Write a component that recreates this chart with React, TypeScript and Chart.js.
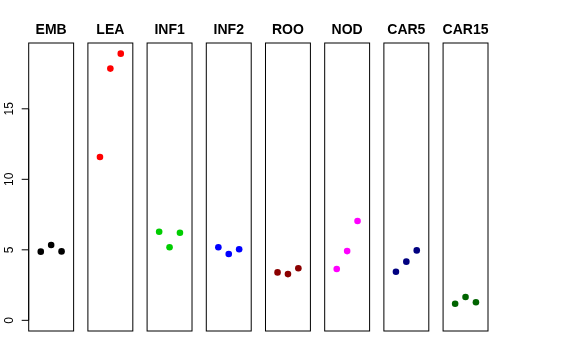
import React, { useEffect, useRef } from "react";
import { Chart, registerables } from "chart.js";

Chart.register(...registerables);

const categories = ["EMB", "LEA", "INF1", "INF2", "ROO", "NOD", "CAR5", "CAR15"];
const colors = ["#000000", "#FF0000", "#00CD00", "#0000FF", "#8B0000", "#FF00FF", "#000080", "#006400"];
const emb = [4.87, 5.34, 4.89];
const lea = [11.58, 17.85, 18.91];
const inf1 = [6.28, 5.18, 6.21];
const inf2 = [5.18, 4.7, 5.04];
const roo = [3.4, 3.28, 3.69];
const nod = [3.64, 4.91, 7.04];
const car5 = [3.45, 4.16, 4.96];
const car15 = [1.18, 1.65, 1.28];
const seriesValues = [emb, lea, inf1, inf2, roo, nod, car5, car15];
const yTicks = [0, 5, 10, 15];

// panel layout in x-data units: each panel spans [-0.16, 4.16] (points at 1..3)
const PANEL_MIN = -0.16;
const PANEL_MAX = 4.16;
const PANEL_STEP = 5.693;

export default function App() {
  const ref = useRef<HTMLCanvasElement | null>(null);

  useEffect(() => {
    document.body.style.margin = "0";
    const canvas = ref.current;
    if (!canvas) return;
    const yMaxData = Math.max(...seriesValues.flat());
    const yRange = yMaxData - 0;
    const yMin = 0 - yRange * 0.04;
    const yMax = yMaxData + yRange * 0.04;

    const datasets = seriesValues.map((vals, i) => ({
      label: categories[i],
      data: vals.map((v, j) => ({ x: i * PANEL_STEP + (j + 1) - PANEL_MIN + PANEL_MIN, y: v })),
      backgroundColor: colors[i],
      borderColor: colors[i],
      borderWidth: 0,
      pointRadius: 3.3,
      pointHoverRadius: 3.3,
      showLine: false,
    }));

    const panelPlugin = {
      id: "panels",
      afterDraw(chart: any) {
        const ctx = chart.ctx;
        const xs = chart.scales.x;
        const ys = chart.scales.y;
        const top = chart.chartArea.top;
        const bottom = chart.chartArea.bottom;
        ctx.save();
        ctx.strokeStyle = "#000";
        ctx.lineWidth = 1;
        categories.forEach((name, i) => {
          const l = xs.getPixelForValue(i * PANEL_STEP + PANEL_MIN);
          const r = xs.getPixelForValue(i * PANEL_STEP + PANEL_MAX);
          ctx.strokeRect(l, top, r - l, bottom - top);
          ctx.fillStyle = "#000";
          ctx.font = "bold 14px 'Liberation Sans', Arial, sans-serif";
          ctx.textAlign = "center";
          ctx.textBaseline = "alphabetic";
          ctx.fillText(name, (l + r) / 2, 34);
        });
        // y axis
        const left = xs.getPixelForValue(PANEL_MIN);
        ctx.beginPath();
        ctx.moveTo(left, ys.getPixelForValue(yTicks[0]));
        ctx.lineTo(left, ys.getPixelForValue(yTicks[yTicks.length - 1]));
        ctx.stroke();
        ctx.font = "12px 'Liberation Sans', Arial, sans-serif";
        yTicks.forEach((t) => {
          const py = ys.getPixelForValue(t);
          ctx.beginPath();
          ctx.moveTo(left - 7, py);
          ctx.lineTo(left, py);
          ctx.stroke();
          ctx.save();
          ctx.translate(12.5, py);
          ctx.rotate(-Math.PI / 2);
          ctx.textAlign = "center";
          ctx.textBaseline = "alphabetic";
          ctx.fillStyle = "#000";
          ctx.fillText(String(t), 0, 0);
          ctx.restore();
        });
        ctx.restore();
      },
    };

    const chart = new Chart(canvas, {
      type: "scatter",
      data: { datasets },
      options: {
        animation: false,
        responsive: false,
        maintainAspectRatio: false,
        layout: { padding: { left: 28.7, right: 88, top: 43, bottom: 29 } },
        plugins: { legend: { display: false }, tooltip: { enabled: false } },
        scales: {
          x: {
            type: "linear",
            display: false,
            min: PANEL_MIN,
            max: (categories.length - 1) * PANEL_STEP + PANEL_MAX,
          },
          y: { type: "linear", display: false, min: yMin, max: yMax },
        },
      },
      plugins: [panelPlugin],
    });
    return () => chart.destroy();
  }, []);

  return (
    <div style={{ width: 576, height: 360, background: "#fff" }}>
      <canvas ref={ref} width={576} height={360} style={{ display: "block" }} />
    </div>
  );
}
